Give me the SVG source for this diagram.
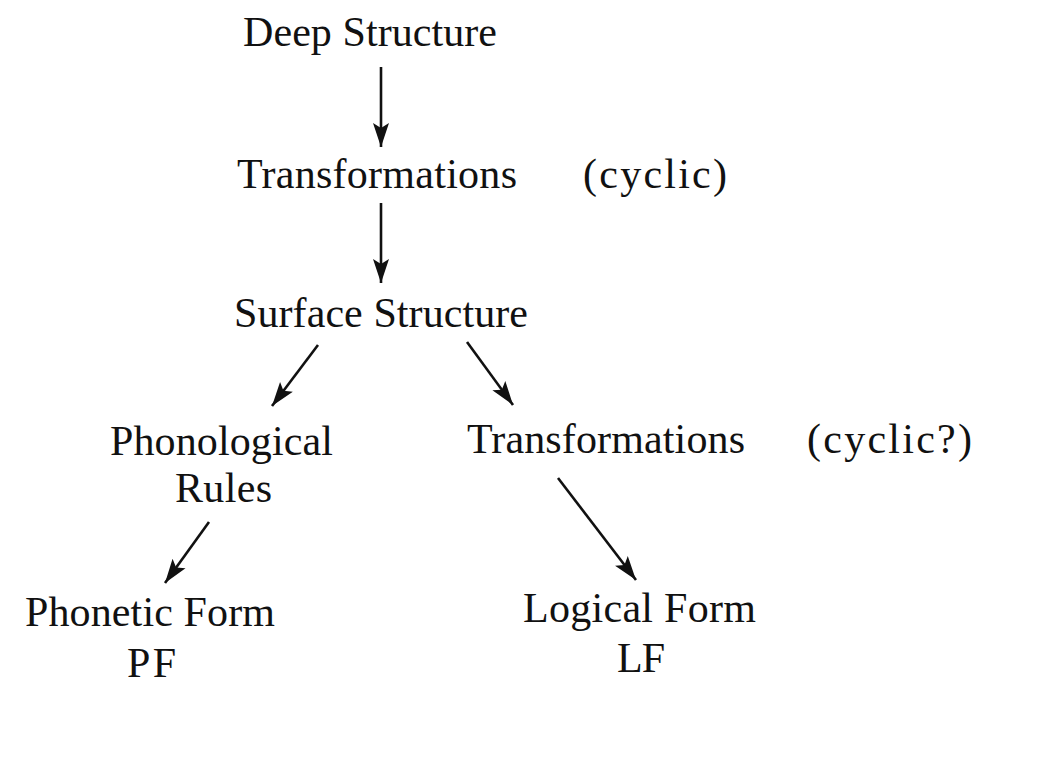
<svg xmlns="http://www.w3.org/2000/svg" width="1046" height="757" viewBox="0 0 1046 757">
<defs>
<style>
text{font-family:"Liberation Serif","Times New Roman",serif;font-size:42px;fill:#111;}
.c{stroke:#111;stroke-width:2.6;fill:none;}
</style>
<marker id="ah" markerUnits="userSpaceOnUse" markerWidth="26" markerHeight="20" viewBox="0 0 26 20" refX="24" refY="10" orient="auto">
<path d="M0,2 L24,10 L0,18 L5,10 Z" fill="#111"/>
</marker>
</defs>
<rect width="1046" height="757" fill="#fff"/>
<g id="connectors">
<line class="c" x1="381" y1="67" x2="381" y2="147" marker-end="url(#ah)"/>
<line class="c" x1="381" y1="203" x2="381" y2="283" marker-end="url(#ah)"/>
<line class="c" x1="318" y1="345" x2="272" y2="406" marker-end="url(#ah)"/>
<line class="c" x1="467" y1="342" x2="513" y2="405" marker-end="url(#ah)"/>
<line class="c" x1="209" y1="522" x2="165" y2="583" marker-end="url(#ah)"/>
<line class="c" x1="558" y1="478" x2="636" y2="580" marker-end="url(#ah)"/>
</g>
<g id="deep"><text x="243" y="46" textLength="254">Deep Structure</text></g>
<g id="trans1"><text x="237" y="188" textLength="280">Transformations</text></g>
<g id="cyclic1"><text x="583" y="188" textLength="144">(cyclic)</text></g>
<g id="surface"><text x="234" y="327" textLength="294">Surface Structure</text></g>
<g id="phonrules"><text x="110" y="455" textLength="223">Phonological</text><text x="175" y="502" textLength="97">Rules</text></g>
<g id="trans2"><text x="467" y="453" textLength="278">Transformations</text></g>
<g id="cyclic2"><text x="807" y="453" textLength="165">(cyclic?)</text></g>
<g id="pf"><text x="25" y="626" textLength="250">Phonetic Form</text><text x="127" y="677" textLength="49">PF</text></g>
<g id="lf"><text x="523" y="622" textLength="233">Logical Form</text><text x="617" y="672" textLength="48">LF</text></g>
</svg>
